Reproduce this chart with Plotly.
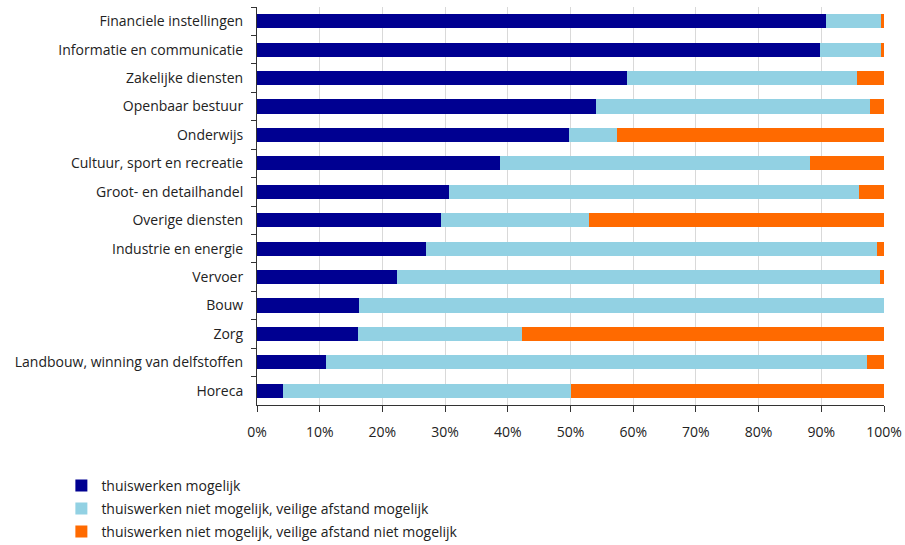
import plotly.graph_objects as go

categories = ["Financiele instellingen", "Informatie en communicatie", "Zakelijke diensten",
              "Openbaar bestuur", "Onderwijs", "Cultuur, sport en recreatie",
              "Groot- en detailhandel", "Overige diensten", "Industrie en energie",
              "Vervoer", "Bouw", "Zorg", "Landbouw, winning van delfstoffen", "Horeca"]

thuis_mogelijk = [90.8, 89.8, 59.0, 54.1, 49.8, 38.8, 30.6, 29.3, 26.9, 22.4, 16.3, 16.1, 11.0, 4.2]
afstand_mogelijk = [8.7, 9.7, 36.7, 43.7, 7.6, 49.4, 65.4, 23.6, 72.0, 76.9, 83.7, 26.2, 86.3, 45.8]
afstand_niet_mogelijk = [0.5, 0.5, 4.3, 2.2, 42.6, 11.8, 4.0, 47.1, 1.1, 0.7, 0.0, 57.7, 2.7, 50.0]

tick_values = list(range(0, 101, 10))
tick_labels = [f"{v}%" for v in tick_values]

series_names = ["thuiswerken mogelijk",
                "thuiswerken niet mogelijk, veilige afstand mogelijk",
                "thuiswerken niet mogelijk, veilige afstand niet mogelijk"]
colors = ["#000091", "#92D1E3", "#FF6A00"]
legend_ids = ["legend", "legend2", "legend3"]
legend_y = [-0.2035, -0.261, -0.319]

fig = go.Figure()
for name, vals, col, lid in zip(series_names,
                                [thuis_mogelijk, afstand_mogelijk, afstand_niet_mogelijk],
                                colors, legend_ids):
    fig.add_trace(go.Bar(y=categories, x=vals, name=name, orientation="h", legend=lid,
                         marker=dict(color=col, line=dict(width=0))))

legend_common = dict(orientation="v", x=-0.312, xanchor="left", yanchor="middle",
                     font=dict(size=14, color="#222222"), bgcolor="rgba(0,0,0,0)",
                     itemwidth=30)
layout_legends = {lid: dict(legend_common, y=ly) for lid, ly in zip(legend_ids, legend_y)}

fig.update_layout(
    barmode="stack",
    bargap=0.5,
    width=905, height=545,
    margin=dict(l=257, r=21, t=7, b=140, autoexpand=False),
    paper_bgcolor="white", plot_bgcolor="white",
    font=dict(family="Open Sans, Noto Sans, sans-serif", size=14, color="#222222"),
    showlegend=True,
    **layout_legends,
)
fig.update_xaxes(range=[0, 100], tickvals=tick_values, ticktext=tick_labels,
                 showgrid=True, gridcolor="#D9D9D9", gridwidth=1,
                 showline=True, linecolor="#333333", linewidth=1,
                 ticks="outside", ticklen=6, tickcolor="#333333",
                 ticklabelstandoff=8, zeroline=False, fixedrange=True)
fig.update_yaxes(autorange="reversed", showline=True, linecolor="#333333", linewidth=1,
                 ticks="outside", tickson="boundaries", ticklen=5, tickcolor="#333333",
                 ticklabelstandoff=10, showgrid=False)

fig.write_html("out.html", config={"displayModeBar": False},
               post_script="document.body.style.margin='0px';")
